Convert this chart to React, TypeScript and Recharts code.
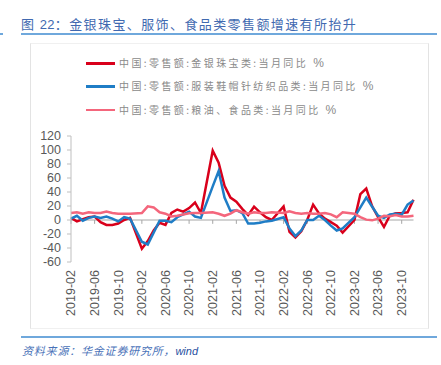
import { Line, LineChart, ReferenceLine, XAxis, YAxis } from 'recharts';

const MONTHS = [
  '2019-02', '2019-03', '2019-04', '2019-05', '2019-06', '2019-07', '2019-08', '2019-09', '2019-10', '2019-11', '2019-12',
  '2020-01', '2020-02', '2020-03', '2020-04', '2020-05', '2020-06', '2020-07', '2020-08', '2020-09', '2020-10', '2020-11', '2020-12',
  '2021-01', '2021-02', '2021-03', '2021-04', '2021-05', '2021-06', '2021-07', '2021-08', '2021-09', '2021-10', '2021-11', '2021-12',
  '2022-01', '2022-02', '2022-03', '2022-04', '2022-05', '2022-06', '2022-07', '2022-08', '2022-09', '2022-10', '2022-11', '2022-12',
  '2023-01', '2023-02', '2023-03', '2023-04', '2023-05', '2023-06', '2023-07', '2023-08', '2023-09', '2023-10', '2023-11', '2023-12',
];

// 金银珠宝类 (Jan is not published, left null)
const GOLD = [
  3, -2, 1, 4, 5, -3, -7, -7, -5, 0, 3,
  null, -41, -30, -15, -4, -7, 10, 15, 12, 17, 25, 10,
  null, 99, 82, 49, 32, 26, 16, 7, 19, 11, 4, 0,
  null, 19.5, -17, -25, -16, 0, 22, 9.5, 2, -3, -8, -18,
  null, 0, 37, 45, 19.5, 4, -10, 6.5, 9.7, 10, 11, 29,
];

// 服装鞋帽针纺织品类
const APPAREL = [
  2, 6, -1, 3, 5, 3, 5, 2, -2, 4, 2,
  null, -31, -35, -18, -1, -1, -3, 4, 8, 12, 5, 3,
  null, 48, 70, 32, 13, 14, 10, -5, -5, -4, -2, -1,
  null, 4, -12, -23, -15, 0, 0, 6, 0, -8, -15, -12,
  null, 4, 18, 32, 19, 6, 3, 8, 9, 7.5, 22, 28,
];

// 粮油、食品类
const FOOD = [
  10, 11, 9, 11, 10, 10, 12, 10, 9, 9, 9,
  null, 10, 19.5, 18, 11, 9, 5, 6, 8, 9.5, 10, 10,
  null, 11, 9, 6, 9, 14, 11, 9, 11, 10, 10, 11,
  null, 10, 12.5, 10, 9, 10, 9, 9, 10, 8, 4, 11,
  null, 9, 4, 0.5, -0.5, 2, 6, 5.5, 7, 5, 5, 6,
];

const Y_TICKS = [-60, -40, -20, 0, 20, 40, 60, 80, 100, 120];

const LEGEND = [
  { name: '中国:零售额:金银珠宝类:当月同比', color: '#d9001b' },
  { name: '中国:零售额:服装鞋帽针纺织品类:当月同比', color: '#1f7dc6' },
  { name: '中国:零售额:粮油、食品类:当月同比', color: '#f4667c' },
];

const data = MONTHS.map((m, i) => ({ month: m, gold: GOLD[i], apparel: APPAREL[i], food: FOOD[i] }));
const tickMonths = MONTHS.filter((_, i) => i % 4 === 0);

const FONT = '"Liberation Sans", Arial, "Noto Sans CJK SC", sans-serif';
const CJK = '"Noto Sans CJK SC", "Liberation Sans", sans-serif';

function MonthTick({ x, y, payload }: any) {
  return (
    <text
      x={x}
      y={y}
      transform={`rotate(-90 ${x} ${y})`}
      textAnchor="end"
      dy="0.35em"
      fontSize={12.5}
      fill="#595959"
      fontFamily={FONT}
    >
      {payload.value}
    </text>
  );
}

export default function App() {
  return (
    <div style={{ position: 'absolute', left: 0, top: 0, width: 441, height: 365, background: '#fff', overflow: 'hidden' }}>
      <div
        style={{
          position: 'absolute', left: 21, top: 15, fontFamily: CJK, fontSize: 13, letterSpacing: 1.4,
          color: '#4169b0', lineHeight: '18px', whiteSpace: 'nowrap',
        }}
      >
        图 <span style={{ fontFamily: FONT, letterSpacing: 0.3 }}>22</span>：金银珠宝、服饰、食品类零售额增速有所抬升
      </div>
      <div style={{ position: 'absolute', left: 21, top: 33, width: 416, height: 1.5, background: '#6fa8dc' }} />
      <div style={{ position: 'absolute', left: 0, top: 33, width: 3, height: 1.5, background: '#6fa8dc' }} />

      <div style={{ position: 'absolute', left: 30, top: 43, width: 397, height: 284, border: '1px solid #e3e3e3', borderTopColor: '#f0f0f0', borderBottomColor: '#f0f0f0' }} />

      {LEGEND.map((l, i) => (
        <div key={l.name}>
          <div style={{ position: 'absolute', left: 86, top: 62 + i * 23.3, width: 29, height: 2.5, background: l.color }} />
          <div
            style={{
              position: 'absolute', left: 119, top: 56 + i * 23.3, fontFamily: CJK, fontSize: 10,
              letterSpacing: 2.4, color: '#8a8a8a', lineHeight: '14px', whiteSpace: 'nowrap',
            }}
          >
            {l.name}
            <span style={{ fontFamily: FONT, fontSize: 12, letterSpacing: 0, marginLeft: 5 }}>%</span>
          </div>
        </div>
      ))}

      <div style={{ position: 'absolute', left: 0, top: 0 }}>
        <LineChart width={441} height={330} data={data} margin={{ top: 136, right: 27.5, bottom: 0, left: 0 }} style={{ overflow: 'visible' }}>
          <XAxis
            dataKey="month"
            interval={3}
            axisLine={false}
            tickLine={false}
            tick={<MonthTick />}
            height={68}
          />
          <YAxis
            domain={[-60, 120]}
            ticks={Y_TICKS}
            interval={0}
            width={71}
            tickSize={4}
            tickMargin={6}
            axisLine={{ stroke: '#bfbfbf' }}
            tickLine={{ stroke: '#bfbfbf' }}
            tick={{ fontSize: 12.5, fill: '#595959', fontFamily: FONT }}
          />
          <ReferenceLine y={0} stroke="#a6a6a6" strokeWidth={1} />
          {tickMonths.map((m) => (
            <ReferenceLine
              key={m}
              segment={[{ x: m, y: 0 }, { x: m, y: -5.5 }]}
              stroke="#a6a6a6"
              strokeWidth={1}
            />
          ))}
          <Line type="linear" dataKey="gold" stroke="#d9001b" strokeWidth={2.5} dot={false} connectNulls isAnimationActive={false} />
          <Line type="linear" dataKey="apparel" stroke="#1f7dc6" strokeWidth={2.5} dot={false} connectNulls isAnimationActive={false} />
          <Line type="linear" dataKey="food" stroke="#f4667c" strokeWidth={2.5} dot={false} connectNulls isAnimationActive={false} />
        </LineChart>
      </div>

      <div style={{ position: 'absolute', left: 21, top: 336, width: 416, height: 1.5, background: '#6fa8dc' }} />
      <div
        style={{
          position: 'absolute', left: 22, top: 342, fontFamily: CJK, fontSize: 11, fontStyle: 'italic',
          color: '#4a72b8', lineHeight: '16px', whiteSpace: 'nowrap', letterSpacing: 0.8,
        }}
      >
        资料来源：华金证券研究所，<span style={{ fontFamily: FONT, color: '#1f4fa0', letterSpacing: 0 }}>wind</span>
      </div>
    </div>
  );
}
